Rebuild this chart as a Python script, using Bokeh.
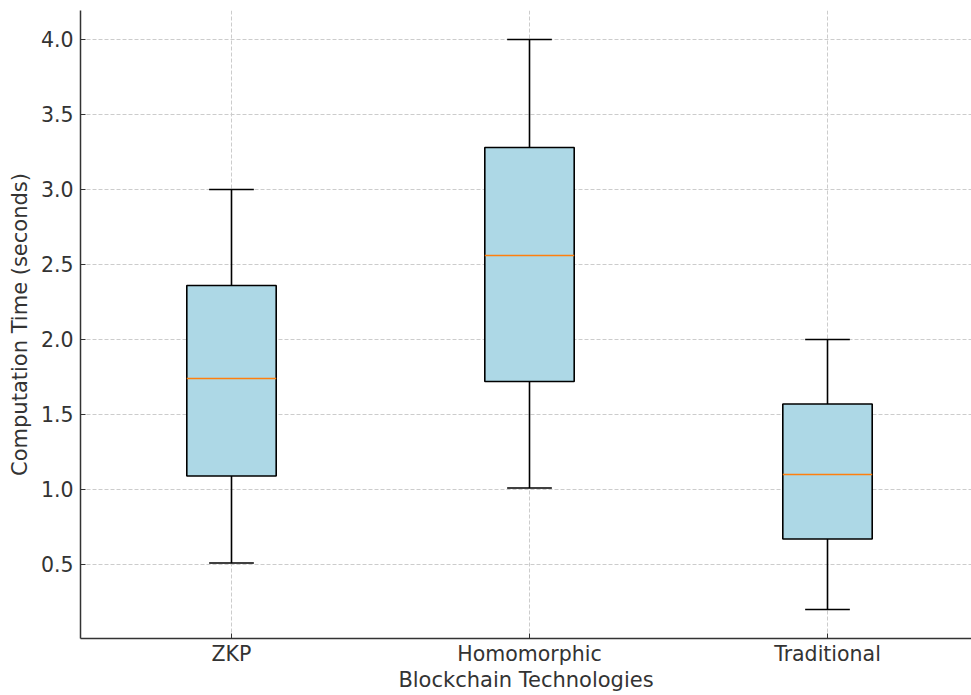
from bokeh.plotting import figure
from bokeh.models import ColumnDataSource, Range1d, FixedTicker
from bokeh.embed import file_html
from bokeh.resources import INLINE

categories = ["ZKP", "Homomorphic", "Traditional"]
whisker_low = [0.51, 1.01, 0.20]
q1 = [1.09, 1.72, 0.67]
median = [1.74, 2.56, 1.10]
q3 = [2.36, 3.28, 1.57]
whisker_high = [3.00, 4.00, 2.00]
y_ticks = [0.5, 1.0, 1.5, 2.0, 2.5, 3.0, 3.5, 4.0]

box_w = 0.30
cap_w = 0.15
xs = [i + 1 for i in range(len(categories))]

src = ColumnDataSource(dict(
    x=xs, lo=whisker_low, q1=q1, med=median, q3=q3, hi=whisker_high,
    bl=[x - box_w / 2 for x in xs], br=[x + box_w / 2 for x in xs],
    cl=[x - cap_w / 2 for x in xs], cr=[x + cap_w / 2 for x in xs],
))

W, H = 971, 695
p = figure(width=W, height=H, output_backend="svg", toolbar_location=None,
           x_range=Range1d(0.4933, 3.4832), y_range=Range1d(0.0067, 4.193),
           min_border_left=80, min_border_right=0, min_border_top=10, min_border_bottom=57)
p.outline_line_color = None
p.background_fill_color = "white"

FONT = "DejaVu Sans"
TXT = "#333333"
for ax in (p.xaxis, p.yaxis):
    ax.axis_line_color = "#333333"
    ax.axis_line_width = 1.5
    ax.major_tick_in = 5
    ax.major_tick_out = 0
    ax.minor_tick_in = 0
    ax.minor_tick_out = 0
    ax.major_tick_line_color = "#333333"
    ax.major_label_text_font = FONT
    ax.major_label_text_font_size = "20.5px"
    ax.major_label_text_color = TXT
    ax.axis_label_text_font = FONT
    ax.axis_label_text_font_size = "21px"
    ax.axis_label_text_font_style = "normal"
    ax.axis_label_text_color = TXT

p.xaxis.ticker = FixedTicker(ticks=xs)
p.xaxis.major_label_overrides = {x: c for x, c in zip(xs, categories)}
p.yaxis.ticker = FixedTicker(ticks=y_ticks)
p.yaxis.major_label_overrides = {t: f"{t:.1f}" for t in y_ticks}
p.xaxis.axis_label = "Blockchain Technologies"
p.yaxis.axis_label = "Computation Time (seconds)"
p.xaxis.major_label_standoff = 3
p.xaxis.axis_label_standoff = -1
p.yaxis.major_label_standoff = 7
p.yaxis.axis_label_standoff = 6

for g in (p.xgrid, p.ygrid):
    g.grid_line_color = "#cccccc"
    g.grid_line_dash = "4 2"
    g.grid_line_width = 1
p.xgrid.ticker = FixedTicker(ticks=xs)
p.ygrid.ticker = FixedTicker(ticks=y_ticks)

# whiskers
p.segment(x0="x", y0="lo", x1="x", y1="q1", source=src, line_color="black", line_width=1.6)
p.segment(x0="x", y0="q3", x1="x", y1="hi", source=src, line_color="black", line_width=1.6)
# caps
p.segment(x0="cl", y0="lo", x1="cr", y1="lo", source=src, line_color="black", line_width=1.6)
p.segment(x0="cl", y0="hi", x1="cr", y1="hi", source=src, line_color="black", line_width=1.6)
# boxes
p.vbar(x="x", width=box_w, bottom="q1", top="q3", source=src,
       fill_color="#ADD8E6", line_color="black", line_width=1.6)
# medians
p.segment(x0="bl", y0="med", x1="br", y1="med", source=src, line_color="#ff7f0e", line_width=1.6)

open("out.html", "w").write(file_html(p, INLINE))
